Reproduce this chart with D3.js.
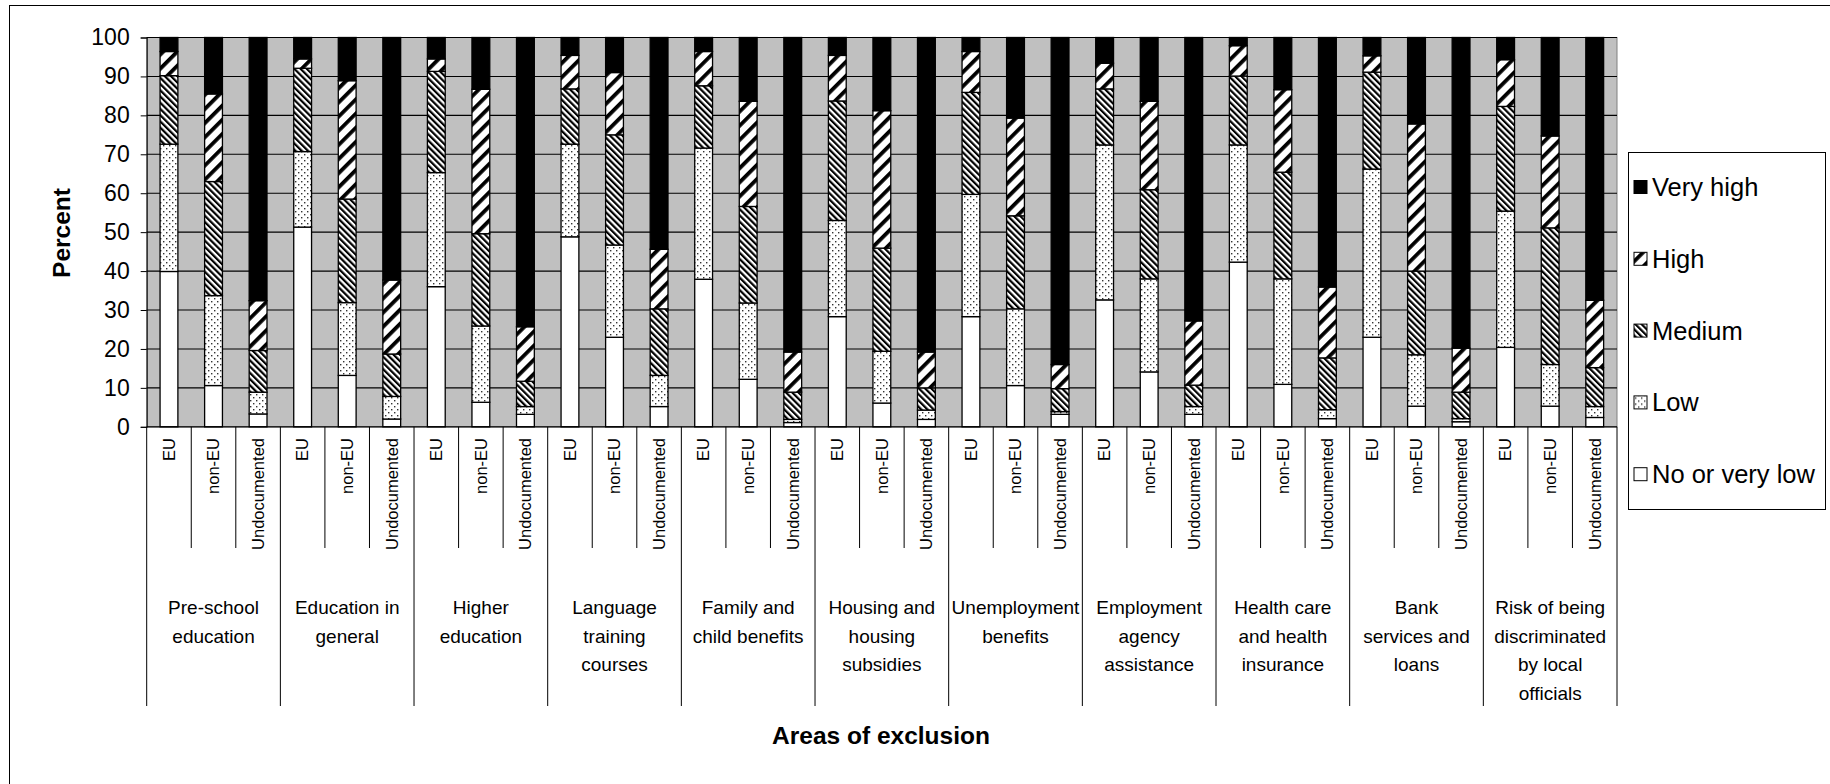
<!DOCTYPE html>
<html><head><meta charset="utf-8">
<script src="https://cdn.jsdelivr.net/npm/d3@7"></script>
<style>
body{margin:0;background:#fff}
svg{display:block}
text{font-family:"Liberation Sans",Arial,sans-serif;fill:#000}
</style>
</head><body>
<svg id="c" width="1830" height="784"></svg>
<script>
// ---- data ----
const groupLabels = [
  ["Pre-school","education"],
  ["Education in","general"],
  ["Higher","education"],
  ["Language","training","courses"],
  ["Family and","child benefits"],
  ["Housing and","housing","subsidies"],
  ["Unemployment","benefits"],
  ["Employment","agency","assistance"],
  ["Health care","and health","insurance"],
  ["Bank","services and","loans"],
  ["Risk of being","discriminated","by local","officials"]
];
const subgroups = ["EU","non-EU","Undocumented"];
const levels = ["No or very low","Low","Medium","High","Very high"];
// one value per bar: groups in order, each EU / non-EU / Undocumented
const noOrVeryLow = [39.9,10.6,3.3, 51.3,13.2,2.0, 36.0,6.3,3.2, 48.8,23.0,5.2, 37.9,12.2,1.1, 28.3,6.1,1.9, 28.3,10.6,3.2, 32.6,14.1,3.2, 42.3,10.9,2.1, 23.0,5.3,1.3, 20.4,5.3,2.4];
const lowV        = [32.7,23.1,5.6, 19.4,18.7,5.8, 29.3,19.6,2.0, 23.8,23.7,8.0, 33.7,19.6,0.8, 24.7,13.3,2.4, 31.4,19.7,0.7, 39.8,23.9,2.0, 30.1,27.1,2.3, 43.2,13.2,0.8, 35.0,10.7,2.8];
const mediumV     = [17.6,29.3,10.7, 21.4,26.6,10.9, 26.0,23.7,6.5, 14.2,28.3,17.1, 16.0,24.8,7.0, 30.7,26.5,5.7, 26.2,23.9,5.9, 14.4,22.9,5.5, 17.7,27.4,13.3, 24.9,21.5,6.8, 26.9,35.1,10.0];
const highV       = [6.2,22.5,12.8, 2.4,30.4,19.0, 3.2,37.1,14.0, 8.6,16.0,15.3, 8.8,27.0,10.3, 11.7,35.3,9.2, 10.5,25.1,6.2, 6.6,22.7,16.5, 7.8,21.2,18.2, 4.2,37.8,11.3, 12.0,23.6,17.3];
const veryHighV   = [3.6,14.5,67.6, 5.5,11.1,62.3, 5.5,13.3,74.3, 4.6,9.0,54.4, 3.6,16.4,80.8, 4.6,18.8,80.8, 3.6,20.7,84.0, 6.6,16.4,72.8, 2.1,13.4,64.1, 4.7,22.2,79.8, 5.7,25.3,67.5];
const yTicks = [0,10,20,30,40,50,60,70,80,90,100];

// ---- build ----
const series = [noOrVeryLow, lowV, mediumV, highV, veryHighV];
const rows = noOrVeryLow.map((_, i) => {
  const r = {id: i, group: Math.floor(i / 3), sub: subgroups[i % 3]};
  levels.forEach((l, k) => r[l] = series[k][i]);
  return r;
});

const svg = d3.select("#c");
const L = 146.7, R = 1617, T = 37.5, B = 426.8;

const defs = svg.append("defs");
// High: wide "/" stripes
const pH = defs.append("pattern").attr("id","pHigh").attr("patternUnits","userSpaceOnUse")
  .attr("width",10).attr("height",10).attr("patternTransform","rotate(45)");
pH.append("rect").attr("width",10).attr("height",10).attr("fill","#fff");
pH.append("rect").attr("width",3.8).attr("height",10).attr("fill","#000");
// Medium: dense "\" stripes
const pM = defs.append("pattern").attr("id","pMed").attr("patternUnits","userSpaceOnUse")
  .attr("width",4.4).attr("height",4.4).attr("patternTransform","rotate(-45)");
pM.append("rect").attr("width",4.4).attr("height",4.4).attr("fill","#fff");
pM.append("rect").attr("width",2.2).attr("height",4.4).attr("fill","#000");
// Low: dots
const pL = defs.append("pattern").attr("id","pLow").attr("patternUnits","userSpaceOnUse")
  .attr("width",6).attr("height",6);
pL.append("rect").attr("width",6).attr("height",6).attr("fill","#fff");
pL.append("rect").attr("x",1).attr("y",1).attr("width",1.4).attr("height",1.4).attr("fill","#333");
pL.append("rect").attr("x",4).attr("y",4).attr("width",1.4).attr("height",1.4).attr("fill","#333");

const fills = {"No or very low":"#fff","Low":"url(#pLow)","Medium":"url(#pMed)","High":"url(#pHigh)","Very high":"#000"};

// outer border
svg.append("rect").attr("x",9.5).attr("y",5.5).attr("width",1840).attr("height",800)
  .attr("fill","none").attr("stroke","#000").attr("stroke-width",1);

const x = d3.scaleBand().domain(rows.map(d => d.id)).range([L, R]).paddingInner(0.6).paddingOuter(0.3);
const y = d3.scaleLinear().domain([0,100]).range([B, T]);
const step = x.step();

// plot area
svg.append("rect").attr("x",L).attr("y",T).attr("width",R-L).attr("height",B-T)
  .attr("fill","#c0c0c0").attr("stroke","#808080").attr("stroke-width",1);

// gridlines + y axis
const yAxis = svg.append("g").attr("transform",`translate(${L},0)`)
  .call(d3.axisLeft(y).tickValues(yTicks).tickSize(6).tickPadding(11).tickFormat(d3.format("d")));
yAxis.select(".domain").attr("stroke","#000");
yAxis.selectAll(".tick line").attr("stroke","#000");
yAxis.selectAll(".tick text").attr("font-size",23).attr("font-family",'"Liberation Sans",Arial,sans-serif');
svg.append("g").selectAll("line").data(yTicks.filter(t => t > 0)).join("line")
  .attr("x1",L).attr("x2",R).attr("y1",d => y(d)).attr("y2",d => y(d))
  .attr("stroke","#000").attr("stroke-width",1.1);

// bars
const stacked = d3.stack().keys(levels)(rows);
svg.append("g").selectAll("g").data(stacked).join("g")
  .attr("fill", d => fills[d.key])
  .selectAll("rect").data(d => d).join("rect")
  .attr("x", d => x(d.data.id)).attr("width", x.bandwidth())
  .attr("y", d => y(d[1])).attr("height", d => y(d[0]) - y(d[1]))
  .attr("stroke","#000").attr("stroke-width",1.3);

// category axis
svg.append("line").attr("x1",L).attr("x2",R).attr("y1",B).attr("y2",B).attr("stroke","#000").attr("stroke-width",1.2);
const bounds = d3.range(34);
svg.append("g").selectAll("line").data(bounds).join("line")
  .attr("x1", i => L + i*step).attr("x2", i => L + i*step)
  .attr("y1", B).attr("y2", i => i % 3 === 0 ? 706 : 548)
  .attr("stroke","#000").attr("stroke-width",1);

svg.append("g").selectAll("text").data(rows).join("text")
  .attr("transform", d => `translate(${x(d.id) + x.bandwidth()/2},438) rotate(-90)`)
  .attr("text-anchor","end").attr("dy","0.35em").attr("font-size",16.5)
  .text(d => d.sub);

const gl = svg.append("g").selectAll("text").data(groupLabels).join("text")
  .attr("text-anchor","middle").attr("font-size",19)
  .attr("x", (d,g) => L + step*(3*g + 1.5)).attr("y", 614);
gl.selectAll("tspan").data(d => d).join("tspan")
  .attr("x", function(){ return this.parentNode.getAttribute("x"); })
  .attr("dy", (d,i) => i === 0 ? 0 : 28.5)
  .text(d => d);

// axis titles
svg.append("text").attr("transform","translate(61,233) rotate(-90)")
  .attr("text-anchor","middle").attr("dy","0.35em").attr("font-size",24.5).attr("font-weight","bold").text("Percent");
svg.append("text").attr("x",881).attr("y",735).attr("text-anchor","middle").attr("dy","0.35em")
  .attr("font-size",24.5).attr("font-weight","bold").text("Areas of exclusion");

// legend
const lg = svg.append("g");
lg.append("rect").attr("x",1628.5).attr("y",152.5).attr("width",197).attr("height",357)
  .attr("fill","#fff").attr("stroke","#000");
const items = levels.slice().reverse();
const li = lg.selectAll("g").data(items).join("g")
  .attr("transform", (d,i) => `translate(1634,${187 + i*71.8})`);
li.append("rect").attr("x",0).attr("y",-6.5).attr("width",13).attr("height",13)
  .attr("fill", d => fills[d]).attr("stroke","#000").attr("stroke-width",1);
li.append("text").attr("x",18).attr("dy","0.35em").attr("font-size",25.5).text(d => d);
</script>
</body></html>
